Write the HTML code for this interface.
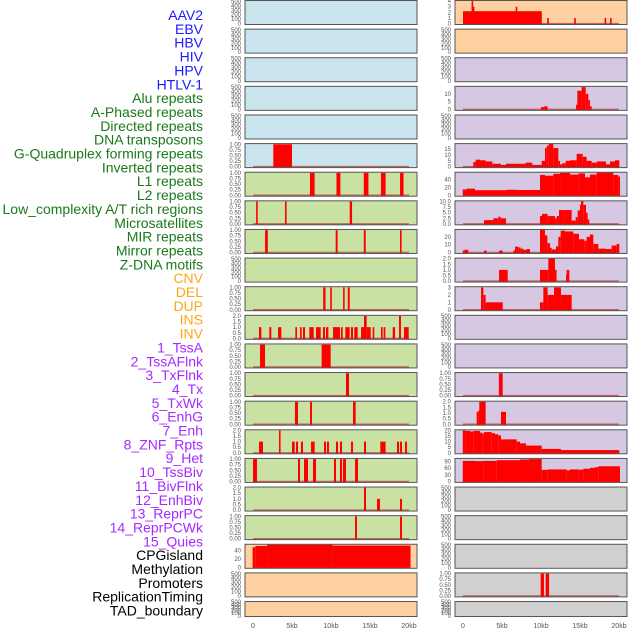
<!DOCTYPE html>
<html><head><meta charset="utf-8"><style>
html,body{margin:0;padding:0;background:#fff;width:630px;height:630px;overflow:hidden}
svg{display:block;font-family:"Liberation Sans",sans-serif}
</style></head><body>
<svg id="chart" width="630" height="630"></svg>
<script>
const labelNames = ["AAV2","EBV","HBV","HIV","HPV","HTLV-1","Alu repeats","A-Phased repeats","Directed repeats","DNA transposons","G-Quadruplex forming repeats","Inverted repeats","L1 repeats","L2 repeats","Low_complexity A/T rich regions","Microsatellites","MIR repeats","Mirror repeats","Z-DNA motifs","CNV","DEL","DUP","INS","INV","1_TssA","2_TssAFlnk","3_TxFlnk","4_Tx","5_TxWk","6_EnhG","7_Enh","8_ZNF_Rpts","9_Het","10_TssBiv","11_BivFlnk","12_EnhBiv","13_ReprPC","14_ReprPCWk","15_Quies","CPGisland","Methylation","Promoters","ReplicationTiming","TAD_boundary"];
const labelColors = ["#1a1aff","#1a1aff","#1a1aff","#1a1aff","#1a1aff","#1a1aff","#1a7a1a","#1a7a1a","#1a7a1a","#1a7a1a","#1a7a1a","#1a7a1a","#1a7a1a","#1a7a1a","#1a7a1a","#1a7a1a","#1a7a1a","#1a7a1a","#1a7a1a","#ffa51a","#ffa51a","#ffa51a","#ffa51a","#ffa51a","#a52aff","#a52aff","#a52aff","#a52aff","#a52aff","#a52aff","#a52aff","#a52aff","#a52aff","#a52aff","#a52aff","#a52aff","#a52aff","#a52aff","#a52aff","#000","#000","#000","#000","#000"];
const E = [0,100,200,300,400,500];
const U = [0,0.25,0.5,0.75,1];
const T2 = [0,0.5,1,1.5,2];
// tracks 0-21 left column, 22-43 right column
const trackBg = [].concat(Array(6).fill("#c9e4ec"),Array(13).fill("#c9e2a4"),Array(3).fill("#ffd1a0"),Array(2).fill("#ffd1a0"),Array(15).fill("#d6c7e3"),Array(5).fill("#d0d0d0"));
const trackTicks = [E,E,E,E,E,U,U,U,U,E,U,T2,U,U,U,T2,U,T2,U,[0,20,40],E,E,
  [0,1,2,3,4],E,E,[0,5,10],E,[0,5,10,15],[0,20,40],[0,2.5,5,7.5,10],[0,10,20],T2,[0,1,2,3],E,E,U,T2,[0,5,10,15,20],[0,30,60,90],E,E,E,U,E];
const trackTop = [520,520,520,520,520,1.03,1.03,1.03,1.03,520,1.03,2.05,1.03,1.03,1.03,2.05,1.03,2.05,1.03,55,520,520,
  4.1,520,520,14.8,520,19.8,59,10.3,29.5,2.05,3.1,520,520,1.03,2.05,20.5,103,520,520,520,1.03,520];
const trackTickFmt = [0,0,0,0,0,2,2,2,2,0,2,1,2,2,2,1,2,1,2,0,0,0, 0,0,0,0,0,0,0,1,0,1,0,0,0,2,1,0,0,0,0,0,2,0];
const trackSegs = [
 [],[],[],[],[],
 [[2.6,5.0,1]],
 [[7.3,7.9,1],[10.7,11.2,1],[14.2,14.8,1],[16.4,17.0,1],[18.85,19.3,1]],
 [[0.4,0.6,1],[4.1,4.3,1],[12.4,12.7,1]],
 [[1.55,1.9,1],[10.6,10.85,1],[14.2,14.45,1],[18.85,19.05,1]],
 [],
 [[9.0,9.3,1],[9.9,10.1,1],[11.55,11.75,1],[12.15,12.4,1]],
 [[0.77,1.07,1],[2.09,2.35,1],[3.21,3.63,1],[5.43,5.64,1],[6.03,6.24,1],[6.41,6.67,1],[7.22,7.78,1],[8.08,8.68,1],[8.97,9.23,1],[9.36,9.66,1],[10.26,11.15,1],[11.28,11.5,1],[11.84,12.39,1],[12.56,12.82,1],[12.99,13.42,1],[13.85,14.23,1],[14.23,14.57,2],[14.57,15.09,1],[15.34,15.55,1],[16.41,16.62,1],[16.75,16.97,1],[17.91,18.21,1],[18.72,18.97,2],[19.36,19.96,1]],
 [[0.9,1.54,1],[8.8,9.96,1]],
 [[11.92,12.31,1]],
 [[5.38,5.77,1],[7.31,7.56,1],[12.82,13.16,1]],
 [[0.77,1.28,1],[3.33,3.45,2],[5.0,5.34,1],[5.51,5.77,1],[6.15,6.41,1],[7.44,7.91,1],[9.1,9.36,1],[9.49,9.74,1],[10.64,10.9,1],[11.15,11.41,1],[12.56,12.82,1],[14.23,14.49,1],[16.32,17.0,1],[18.46,18.72,1],[18.85,19.1,1],[19.49,19.74,1]],
 [[0,0.51,1],[5.77,6.03,1],[6.54,7.05,1],[7.69,8.08,1],[10.38,10.64,1],[11.15,11.41,1],[11.54,11.92,1],[13.08,13.46,1]],
 [[14.23,14.49,2],[15.9,16.28,1],[18.85,19.1,1]],
 [[13.08,13.33,1],[18.85,19.1,1]],
 [[-0.05,0.3,48],[0.3,1.8,51],[1.8,10.2,54],[10.2,20.2,52]],
 [],[],
 [[0,10.1,2.2],[1.1,1.25,4],[1.25,1.35,3],[6.75,6.9,3],[10.8,10.95,1],[14.25,14.4,1],[18.15,18.3,1],[18.85,19.0,1]],
 [],[],
 [[10.0,10.4,1.5],[10.4,10.85,2],[14.49,14.66,3],[14.66,15.21,12],[15.21,15.73,14.3],[15.73,16.07,10],[16.07,16.28,6],[16.28,16.5,2]],
 [],
 [[1.32,1.62,4],[1.62,2.18,6],[2.18,2.9,5.5],[2.9,3.76,4.5],[3.76,4.87,2.5],[4.87,5.51,1.5],[5.51,8.03,2.5],[8.03,8.89,3.5],[8.89,10.09,1.5],[10.09,10.51,5],[10.51,10.73,16],[10.73,10.98,18],[10.98,11.58,19.5],[11.58,12.22,16],[12.22,12.44,5],[12.44,12.73,2],[12.73,13.16,3],[13.16,13.72,5],[13.72,14.57,5.5],[14.57,15.34,11],[15.34,15.85,8.5],[15.85,16.5,5],[16.5,17.14,3.5],[17.14,18.33,4.5],[18.33,18.85,2],[18.85,19.49,4.5],[19.49,20.04,5.5]],
 [[-0.03,0.47,15],[0.47,1.54,17],[1.54,5.5,13],[5.5,7.0,14],[7.0,9.87,13.5],[9.87,10.51,52],[10.51,11.58,50],[11.58,12.44,55],[12.44,13.72,57],[13.72,14.79,53],[14.79,15.64,56],[15.64,16.28,46],[16.28,17.14,53],[17.14,19.27,58],[19.27,19.91,52],[19.91,20.13,48]],
 [[2.69,3.89,1.7],[3.89,4.53,2.5],[4.53,4.83,3.2],[4.83,5.51,2.5],[9.87,10.13,3.5],[10.13,10.85,4.5],[10.85,11.79,3.5],[11.79,12.01,2.5],[12.01,12.31,3.5],[12.31,13.0,6.2],[13.0,13.93,6.2],[13.93,14.44,1.5],[14.44,14.7,3],[14.7,15.0,6],[15.0,15.13,8.5],[15.13,15.43,10.5],[15.43,15.77,8.5],[15.77,15.98,5],[15.98,16.15,2]],
 [[-0.03,0.17,2.5],[0.17,0.68,3.5],[2.69,3.03,2.5],[4.62,5.09,2.5],[6.45,6.67,2.5],[6.67,7.09,7.5],[7.09,7.39,6.5],[7.39,7.74,5],[7.74,8.16,3.5],[8.16,8.59,4.5],[9.87,10.51,29],[10.51,10.81,22],[10.81,11.15,12],[11.15,11.37,6],[11.37,11.92,4],[11.92,12.22,8],[12.22,12.52,20],[12.52,13.08,28],[13.08,14.15,27],[14.15,14.87,24],[14.87,15.55,17],[15.55,15.85,15],[15.85,16.28,20],[16.28,16.71,23],[16.71,17.35,11],[17.35,18.33,5],[18.33,19.06,4.5],[19.06,19.7,9],[19.7,20.04,11]],
 [[4.62,5.73,1],[9.87,10.94,1],[10.94,11.79,2],[11.79,11.92,1],[13.21,13.29,0.6],[13.29,13.63,1]],
 [[2.31,2.61,3],[2.61,2.9,2],[2.9,5.09,1],[9.87,10.3,1],[10.3,10.85,3],[10.85,11.67,2],[11.67,12.56,3],[12.56,13.93,2]],
 [],[],
 [[4.6,5.09,1]],
 [[1.75,1.97,1.1],[1.97,2.09,1.2],[2.09,2.9,2],[4.87,5.51,1.1]],
 [[-0.03,0.34,20],[0.34,0.9,19.5],[0.9,1.32,19],[1.32,2.18,19.5],[2.18,2.48,18],[2.48,2.69,17],[2.69,3.68,18.5],[3.68,4.1,17.5],[4.1,4.53,16.5],[4.53,4.87,15.5],[4.87,6.88,12],[6.88,7.31,10],[7.31,8.08,8.5],[8.08,10.09,6.5],[10.09,12.56,3.5],[12.56,20.04,2.5]],
 [[-0.03,1.54,92],[1.54,2.61,91],[2.61,4.32,92],[4.32,7.31,95],[7.31,8.46,98],[8.46,10.09,100],[10.09,10.85,52],[10.85,13.29,54],[13.29,13.72,50],[13.72,14.79,54],[14.79,15.43,53],[15.43,16.28,57],[16.28,16.92,61],[16.92,17.35,64],[17.35,20.13,68]],
 [],[],[],
 [[9.96,10.38,1],[10.6,11.03,1]],
 []
];
const xTickVals = [0,5,10,15,20];
const xTickLabels = ["0","5kb","10kb","15kb","20kb"];

const svg = document.getElementById('chart');
const NS = "http://www.w3.org/2000/svg";
function mk(tag, attrs, parent){const e=document.createElementNS(NS,tag);for(const k in attrs)e.setAttribute(k,attrs[k]);(parent||svg).appendChild(e);return e;}

// labels
labelNames.forEach((n,i)=>{
  const t = mk('text',{x:203,y:(15+i*13.85+5).toFixed(1),'text-anchor':'end','font-size':'14',fill:labelColors[i]});
  t.textContent = n;
  
  
});

const colX = [245,455], colZero = [253,463], kbPx = 7.8, panelW = 172;
const rowStep = 28.62;
for(let i=0;i<44;i++){
  const col = Math.floor(i/22), row = i%22;
  const top = row*rowStep + 0.5;
  const h = row===21 ? 15 : 24;
  const left = colX[col];
  const hi = trackTop[i], lo = -0.04*hi;
  const ys = v => top + h - (v-lo)/(hi-lo)*h;
  const xs = kb => colZero[col] + kb*kbPx;
  const g = mk('g',{});
  
  
  const bg = mk('rect',{x:left,y:top,width:panelW,height:h,fill:trackBg[i]},g);
  
  
  const segs = trackSegs[i];
  if(segs.length){
    const bl = mk('line',{x1:xs(0),x2:xs(20),y1:ys(0),y2:ys(0),stroke:'#b33',"stroke-opacity":0.7,'stroke-width':1.5},g);
    
    
  }
  segs.forEach(s=>{
    const x0 = xs(s[0]), w = Math.max(1.6, xs(s[1])-x0);
    const y1 = Math.max(top, ys(s[2]));
    const r = mk('rect',{x:x0.toFixed(2),y:y1.toFixed(2),width:w.toFixed(2),height:(ys(0)-y1+0.5).toFixed(2),fill:'#ff0000'},g);
    
    
  });
  const br = mk('rect',{x:left,y:top,width:panelW,height:h,fill:'none',stroke:'#555','stroke-width':1},g);
  
  
  trackTicks[i].forEach(v=>{
    const y = Math.min(top+h, Math.max(top, ys(v)));
    const t = mk('text',{x:left-4,y:(y+2).toFixed(1),'text-anchor':'end','font-size':'6',fill:'#555'},g);
    t.textContent = v.toFixed(trackTickFmt[i]);
    
    
  });
}
for(let c=0;c<2;c++){
  xTickVals.forEach((v,k)=>{
    const t = mk('text',{x:colZero[c]+v*kbPx,y:628,'text-anchor':'middle','font-size':'7',fill:'#555'});
    t.textContent = xTickLabels[k];
    
    
  });
}
</script>
</body></html>
